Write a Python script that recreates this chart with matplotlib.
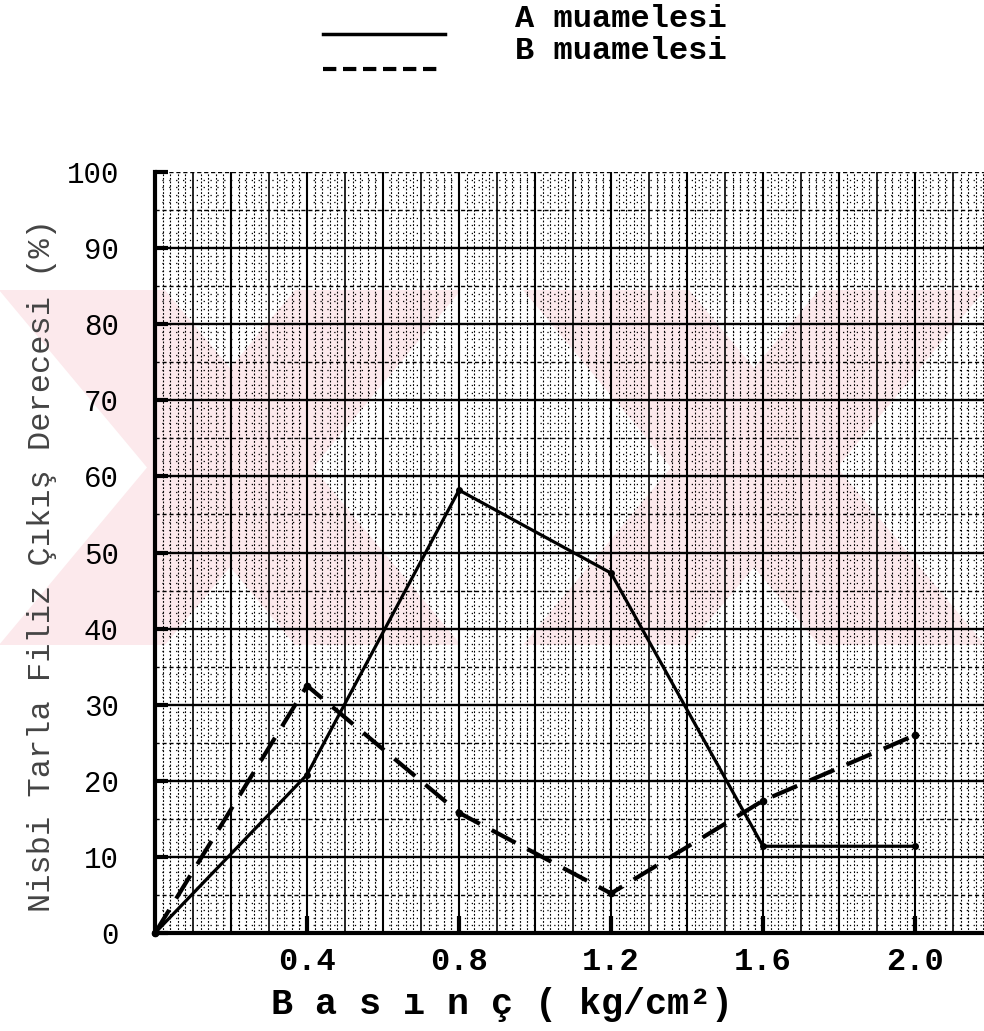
import numpy as np
import matplotlib
matplotlib.use("Agg")
import matplotlib.pyplot as plt
from matplotlib.patches import Polygon
from matplotlib.lines import Line2D

# ---------------- data ----------------
pressure = [0.0, 0.4, 0.8, 1.2, 1.6, 2.0]
treatment_a = [0.0, 20.8, 58.2, 47.3, 11.4, 11.4]
treatment_b = [0.0, 32.5, 15.8, 5.2, 17.4, 26.0]
x_tick_values = [0.4, 0.8, 1.2, 1.6, 2.0]
x_tick_labels = ["0.4", "0.8", "1.2", "1.6", "2.0"]
y_tick_values = [0, 10, 20, 30, 40, 50, 60, 70, 80, 90, 100]
y_tick_labels = ["0", "10", "20", "30", "40", "50", "60", "70", "80", "90", "100"]
legend_labels = ["A muamelesi", "B muamelesi"]
x_label = "B a s ı n ç ( kg/cm²)"
y_label = "Nisbi Tarla Filiz Çıkış Derecesi (%)"

W, H = 984, 1031
FONT = "Liberation Mono"

fig = plt.figure(figsize=(W / 100, H / 100), dpi=100)
fig.patch.set_facecolor("white")


def fx(px):
    return px / W


def fy(py):
    return 1 - py / H


# ---------------- faint watermark (pink X shapes) ----------------
pink = "#fce9ec"
ytop, ybot = 290, 645
for cx in (230, 754):
    half = 83
    dx = 148
    poly1 = [(cx - dx - half, ytop), (cx - dx + half, ytop),
             (cx + dx + half, ybot), (cx + dx - half, ybot)]
    poly2 = [(cx - dx - half, ybot), (cx - dx + half, ybot),
             (cx + dx + half, ytop), (cx + dx - half, ytop)]
    for poly in (poly1, poly2):
        p = Polygon([(fx(a), fy(b)) for a, b in poly], closed=True,
                    transform=fig.transFigure, facecolor=pink,
                    edgecolor="none", zorder=-5)
        fig.add_artist(p)

# ---------------- axes ----------------
left_px, right_px, top_px, bot_px = 155, 984, 172, 933
ax = fig.add_axes([fx(left_px), fy(bot_px), fx(right_px) - fx(left_px),
                   fy(top_px) - fy(bot_px)])
ax.patch.set_visible(False)
xmax = (right_px - left_px) / 380.0
ax.set_xlim(0, xmax)
ax.set_ylim(0, 100)

# graph-paper grid
n_x = int(round(xmax / 0.02)) + 1
for i in range(n_x):
    x = i * 0.02
    if i % 10 == 0:
        ax.axvline(x, color="black", lw=1.5, zorder=1)
    elif i % 5 == 0:
        ax.axvline(x, color="black", lw=1.2, zorder=1)
    else:
        ax.axvline(x, color="black", lw=0.8, ls=(0, (1.6, 1.6)), zorder=1)
for j in range(0, 101):
    if j == 100:
        ax.axhline(j, color="black", lw=1.0, ls=(0, (3, 2)), zorder=1)
    elif j % 10 == 0:
        ax.axhline(j, color="black", lw=1.7, zorder=1)
    elif j % 5 == 0:
        ax.axhline(j, color="black", lw=1.0, ls=(0, (3, 2)), zorder=1)
    else:
        ax.axhline(j, color="black", lw=0.9, ls=(0, (1, 4.5)), zorder=1)

# data lines
ax.plot(pressure, treatment_a, color="black", lw=2.3, solid_joinstyle="miter",
        marker="o", ms=4, zorder=5, clip_on=False)
ax.plot(pressure, treatment_b, color="black", lw=3.0, ls=(0, (6.5, 3.2)),
        marker="o", ms=4.5, zorder=5, clip_on=False)

# spines
for s in ("top", "right"):
    ax.spines[s].set_visible(False)
for s in ("left", "bottom"):
    ax.spines[s].set_linewidth(3.0)
    ax.spines[s].set_zorder(6)

ax.set_xticks(x_tick_values)
ax.set_xticklabels(x_tick_labels, fontfamily=FONT, fontweight="bold",
                   fontsize=23)
ax.set_yticks(y_tick_values)
ax.set_yticklabels(y_tick_labels, fontfamily=FONT, fontsize=21)
ax.tick_params(axis="x", direction="in", length=12, width=3, pad=10)
ax.tick_params(axis="y", direction="in", length=9, width=3, pad=26)

# axis labels
fig.text(fx(502), fy(1005), x_label, ha="center", va="center",
         fontfamily=FONT, fontweight="bold", fontsize=26.5)
fig.text(fx(42), fy(566), y_label, ha="center", va="center", rotation=90,
         fontfamily=FONT, fontsize=23, color="#444444")

# legend (drawn at the top, outside axes)
fig.add_artist(Line2D([fx(323), fx(445)], [fy(34), fy(34)], color="black",
                      lw=2.5, transform=fig.transFigure))
fig.add_artist(Line2D([fx(323), fx(443)], [fy(69), fy(69)], color="black",
                      lw=3.0, ls=(0, (3.2, 1.6)), transform=fig.transFigure))
fig.text(fx(515), fy(19), legend_labels[0], ha="left", va="center",
         fontfamily=FONT, fontweight="bold", fontsize=23)
fig.text(fx(515), fy(51), legend_labels[1], ha="left", va="center",
         fontfamily=FONT, fontweight="bold", fontsize=23)

fig.savefig("out.png", dpi=100)
